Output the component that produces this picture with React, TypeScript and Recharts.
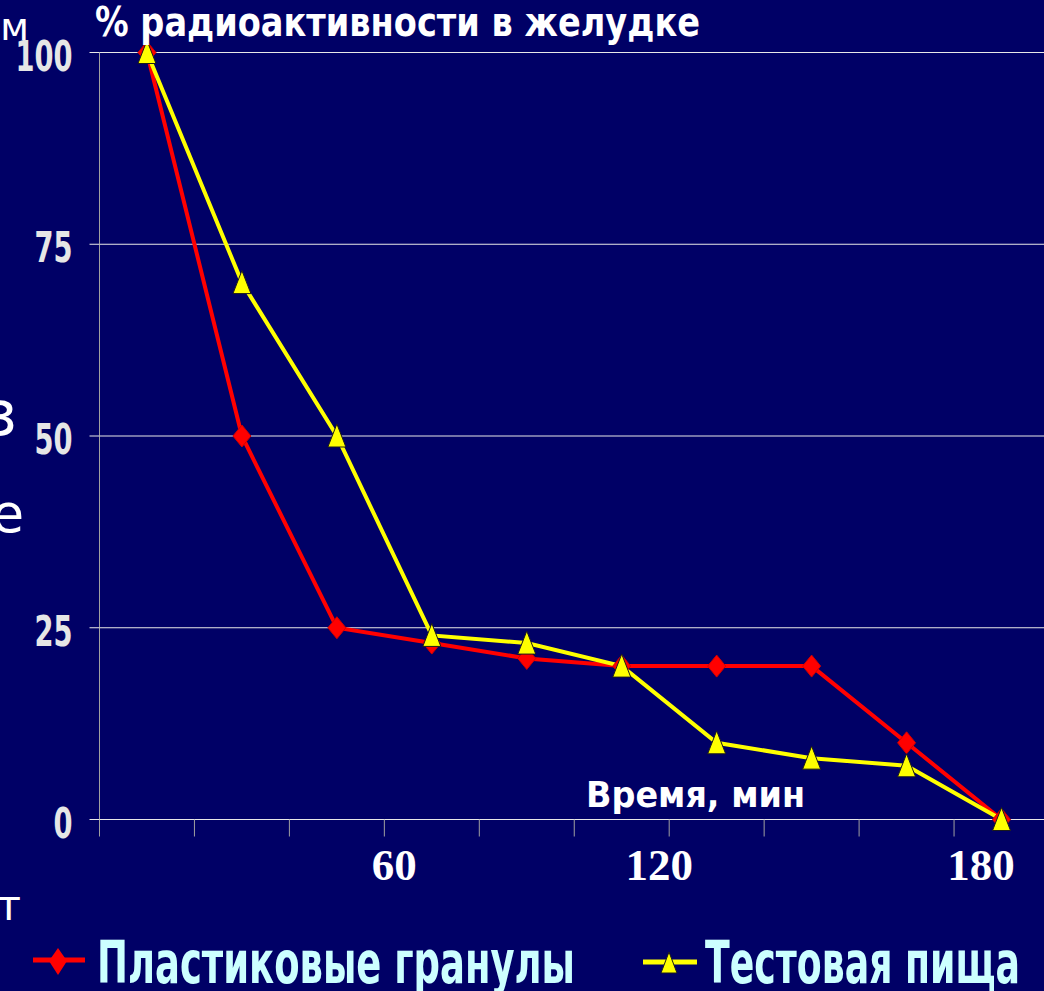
import { LineChart, Line, XAxis, YAxis, CartesianGrid, Legend } from "recharts"

// time points (minutes), one per category slot
const times = [10, 30, 50, 70, 90, 110, 130, 150, 170, 190]
// % radioactivity left in the stomach
const plasticPellets = [100, 50, 25, 23, 21, 20, 20, 20, 10, 0]
const testMeal = [100, 70, 50, 24, 23, 20, 10, 8, 7, 0]

const xTicks = [0, 20, 40, 60, 80, 100, 120, 140, 160, 180, 200]
const yTicks = [0, 25, 50, 75, 100]
const xLabels: Record<number, string> = { 60: "60", 120: "120", 180: "180" }
// hand-placed label shifts, as on the slide
const xLabelShift: Record<number, number> = { 60: 10, 120: -10, 180: 27 }

const seriesNames = ["Пластиковые гранулы", "Тестовая пища"]

const BG = "#000066"
const NARROW = "'Liberation Sans Narrow', 'DejaVu Sans Condensed', sans-serif"

const data = times.map((t, i) => ({
  t,
  plastic: plasticPellets[i],
  meal: testMeal[i],
}))

function Diamond(props: any) {
  const { cx, cy, index } = props
  if (cx == null || cy == null) return <g key={`dm-${index}`} />
  return (
    <path
      key={`dm-${index}`}
      d={`M${cx},${cy - 11} L${cx + 9},${cy} L${cx},${cy + 11} L${cx - 9},${cy} Z`}
      fill="#ff0000"
      stroke="#d00000"
      strokeWidth={1}
    />
  )
}

function Triangle(props: any) {
  const { cx, cy, index } = props
  if (cx == null || cy == null) return <g key={`tr-${index}`} />
  return (
    <path
      key={`tr-${index}`}
      d={`M${cx},${cy - 12} L${cx + 9},${cy + 11} L${cx - 9},${cy + 11} Z`}
      fill="#ffff00"
      stroke="#1a1a1a"
      strokeWidth={1}
    />
  )
}

function XTick(props: any) {
  const { x, y, payload } = props
  const label = xLabels[payload.value]
  if (!label) return <g />
  return (
    <text
      x={x + (xLabelShift[payload.value] || 0)}
      y={y + 43}
      textAnchor="middle"
      fill="#ffffff"
      fontFamily="'Liberation Serif', 'Times New Roman', serif"
      fontWeight="bold"
      fontSize={45}
    >
      {label}
    </text>
  )
}

function YTick(props: any) {
  const { x, y, payload } = props
  const s = String(payload.value)
  return (
    <text
      x={x}
      y={y + 18}
      textAnchor="end"
      textLength={s.length * 19}
      lengthAdjust="spacingAndGlyphs"
      fill="#e6e6e6"
      fontFamily={NARROW}
      fontWeight="bold"
      fontSize={42}
    >
      {s}
    </text>
  )
}

function SlideLegend() {
  return (
    <svg width={1044} height={71}>
      <line x1={33} y1={40} x2={85} y2={40} stroke="#ff0000" strokeWidth={5} />
      <path d="M58,28 L67,41 L58,55 L49,41 Z" fill="#ff0000" />
      <text
        x={97}
        y={63}
        textLength={478}
        lengthAdjust="spacingAndGlyphs"
        fill="#ccffff"
        fontFamily={NARROW}
        fontWeight="bold"
        fontSize={58}
      >
        {seriesNames[0]}
      </text>
      <line x1={643} y1={42} x2={697} y2={42} stroke="#ffff00" strokeWidth={5} />
      <path d="M669,32 L677,53 L661,53 Z" fill="#ffff00" stroke="#1a1a1a" strokeWidth={1} />
      <text
        x={705}
        y={63}
        textLength={315}
        lengthAdjust="spacingAndGlyphs"
        fill="#ccffff"
        fontFamily={NARROW}
        fontWeight="bold"
        fontSize={58}
      >
        {seriesNames[1]}
      </text>
    </svg>
  )
}

export default function App() {
  return (
    <div
      style={{
        position: "fixed",
        left: 0,
        top: 0,
        width: 1044,
        height: 991,
        overflow: "hidden",
        background: BG,
      }}
    >
      <LineChart
        width={1050}
        height={991}
        data={data}
        margin={{ top: 52.5, right: 1, left: 0.5, bottom: 71.5 }}
      >
        <CartesianGrid vertical={false} stroke="#e8e8e8" strokeWidth={1} />
        <XAxis
          dataKey="t"
          type="number"
          domain={[0, 200]}
          ticks={xTicks}
          interval={0}
          height={100}
          tickSize={17}
          tickMargin={0}
          tick={<XTick />}
          tickLine={{ stroke: "#a0a0a0" }}
          axisLine={{ stroke: "#e8e8e8" }}
        />
        <YAxis
          type="number"
          domain={[0, 100]}
          ticks={yTicks}
          interval={0}
          width={99}
          tickSize={10}
          tickMargin={17}
          tick={<YTick />}
          tickLine={{ stroke: "#e8e8e8" }}
          axisLine={{ stroke: "#a0a0a0" }}
        />
        <Legend
          layout="horizontal"
          verticalAlign="middle"
          align="center"
          wrapperStyle={{ position: "absolute", left: 0, top: 920, width: 1044, height: 71 }}
          content={() => <SlideLegend />}
        />
        <Line
          dataKey="plastic"
          name={seriesNames[0]}
          stroke="#ff0000"
          strokeWidth={4}
          dot={Diamond}
          activeDot={false}
          isAnimationActive={false}
        />
        <Line
          dataKey="meal"
          name={seriesNames[1]}
          stroke="#ffff00"
          strokeWidth={4}
          dot={Triangle}
          activeDot={false}
          isAnimationActive={false}
        />
      </LineChart>
      <svg
        width={1044}
        height={991}
        style={{ position: "absolute", left: 0, top: 0, pointerEvents: "none" }}
      >
        <text
          x={95}
          y={36}
          textLength={605}
          lengthAdjust="spacingAndGlyphs"
          fill="#ffffff"
          fontFamily="'DejaVu Sans', Verdana, sans-serif"
          fontWeight="bold"
          fontSize={41}
        >
          % радиоактивности в желудке
        </text>
        <text
          x={586}
          y={807}
          textLength={219}
          lengthAdjust="spacingAndGlyphs"
          fill="#ffffff"
          fontFamily="'DejaVu Sans', Verdana, sans-serif"
          fontWeight="bold"
          fontSize={35}
        >
          Время, мин
        </text>
        {/* bits of slide text peeking out at the left edge */}
        <g fill="#ffffff" fontFamily="'DejaVu Sans', Verdana, sans-serif">
          <text x={29} y={40} textAnchor="end" fontSize={38}>м</text>
          <text x={17} y={435} textAnchor="end" fontSize={62}>з</text>
          <text x={24} y={532} textAnchor="end" fontSize={53}>е</text>
          <text x={21} y={920} textAnchor="end" fontSize={42}>т</text>
        </g>
      </svg>
    </div>
  )
}
